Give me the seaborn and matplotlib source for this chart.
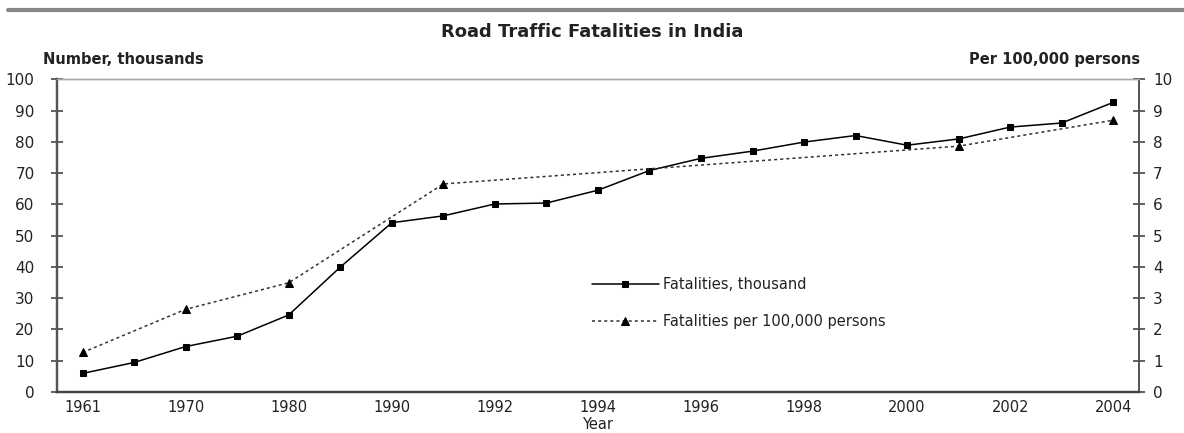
import numpy as np
import pandas as pd
import matplotlib
matplotlib.use('Agg')
import matplotlib.pyplot as plt
import seaborn as sns
from matplotlib.lines import Line2D

sns.set_style('white')
plt.rcParams['font.family'] = ['DejaVu Sans']

# categories on the x axis (uneven years, plotted as equal steps)
years = ['1961', '1965', '1970', '1975', '1980', '1985', '1990', '1991', '1992',
         '1993', '1994', '1995', '1996', '1997', '1998', '1999', '2000', '2001',
         '2002', '2003', '2004']
# fatalities, thousands
fatalities = [5.9, 9.4, 14.5, 17.8, 24.6, 39.9, 54.1, 56.3, 60.1, 60.4, 64.5,
              70.8, 74.7, 77.0, 79.9, 82.0, 78.9, 80.9, 84.7, 86.0, 92.6]
# fatalities per 100,000 persons (only some years)
rate_years = ['1961', '1970', '1980', '1991', '2001', '2004']
rate = [1.26, 2.64, 3.49, 6.65, 7.86, 8.69]

df = pd.DataFrame({'year': years, 'fatalities': fatalities})
df['pos'] = range(len(years))
df_rate = pd.DataFrame({'year': rate_years, 'rate': rate})
df_rate['pos'] = [years.index(y) for y in rate_years]

fig = plt.figure(figsize=(11.84, 4.33), dpi=100)
ax = fig.add_axes([0.048, 0.095, 0.914, 0.722])
ax2 = ax.twinx()

text_col = '#222222'

sns.lineplot(data=df, x='pos', y='fatalities', ax=ax, color='black', linewidth=1.1,
             marker='s', markersize=5, markeredgecolor='black', label='Fatalities, thousand',
             legend=False)
sns.lineplot(data=df_rate, x='pos', y='rate', ax=ax2, color='#333333', linewidth=1.1,
             linestyle=(0, (2, 2)), marker='^', markersize=5.5, markeredgecolor='black',
             markerfacecolor='black', label='Fatalities per 100,000 persons', legend=False)

ax.set_xlim(-0.5, len(years) - 0.5)
ax.set_ylim(0, 100)
ax2.set_ylim(0, 10)
ax.set_yticks(range(0, 101, 10))
ax2.set_yticks(range(0, 11, 1))

ax.set_xticks(range(0, len(years), 2))
ax.set_xticklabels(years[::2])
ax.set_xticks(np.arange(-0.5, len(years), 1), minor=True)

ax.tick_params(axis='x', which='major', direction='out', length=2, width=1.2,
               colors='#444444', labelcolor=text_col, labelsize=10.5, pad=4)
ax.tick_params(axis='x', which='minor', direction='inout', length=7, width=1.2, colors='#444444')
ax.tick_params(axis='y', direction='inout', length=8, width=1.2, colors='#444444',
               labelcolor=text_col, labelsize=11, pad=12, left=True)
ax2.tick_params(axis='y', direction='inout', length=8, width=1.2, colors='#444444',
                labelcolor=text_col, labelsize=11, pad=6, right=True)

ax.set_xlabel('Year', fontsize=10.5, color=text_col, labelpad=1)
ax.set_ylabel('')
ax2.set_ylabel('')

for a in (ax, ax2):
    a.spines['top'].set_color('#aaaaaa')
    a.spines['top'].set_linewidth(1.0)
    a.spines['left'].set_color('#555555')
    a.spines['left'].set_linewidth(1.6)
    a.spines['right'].set_color('#555555')
    a.spines['right'].set_linewidth(1.3)
    a.spines['bottom'].set_color('#444444')
    a.spines['bottom'].set_linewidth(1.6)

h1, l1 = ax.get_legend_handles_labels()
h2, l2 = ax2.get_legend_handles_labels()
ax.legend(h1 + h2, l1 + l2, loc='center left', bbox_to_anchor=(0.482, 0.285),
          frameon=False, handlelength=4.6, handletextpad=0.3, labelspacing=1.5,
          fontsize=10.5, labelcolor=text_col)

fig.text(0.5, 0.925, 'Road Traffic Fatalities in India', ha='center', va='center',
         fontsize=13, fontweight='bold', color=text_col)
fig.text(0.036, 0.862, 'Number, thousands', ha='left', va='center',
         fontsize=10.5, fontweight='bold', color=text_col)
fig.text(0.963, 0.862, 'Per 100,000 persons', ha='right', va='center',
         fontsize=10.5, fontweight='bold', color=text_col)

# grey rule across the top of the figure
fig.add_artist(Line2D([0.007, 1.0], [0.977, 0.977], color='#888888', linewidth=3,
                      transform=fig.transFigure))

fig.savefig('out.png', dpi=100)
